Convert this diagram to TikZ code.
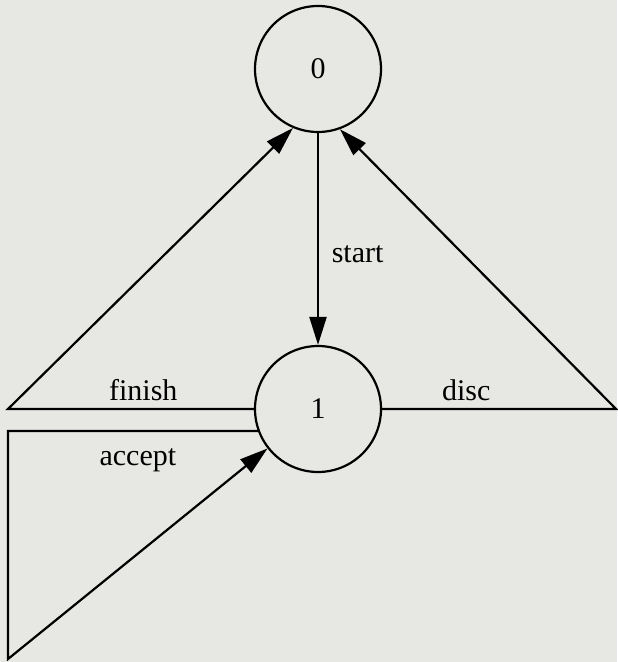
\documentclass[tikz,border=0pt]{standalone}
\usepackage{fontspec}
\setmainfont{Liberation Serif}
\usetikzlibrary{arrows.meta, positioning}
\definecolor{paper}{RGB}{231,231,227}

\begin{document}
\begin{tikzpicture}[
    x=0.5pt, y=-0.5pt,
    state/.style={circle, draw, line width=1.1pt, minimum size=63pt, inner sep=0pt, font=\fontsize{15}{18}\selectfont},
    trans/.style={draw, line width=1.1pt},
    arc/.style={trans, -{Triangle[length=14pt, width=8.5pt]}},
    lbl/.style={font=\fontsize{15}{18}\selectfont}
]
    % Paper
    \fill[paper] (0,0) rectangle (617,662);
    \useasboundingbox (0,0) rectangle (617,662);

    % States
    \node[state] (Q0) at (318,69) {0};
    \node[state] (Q1) at (318,409) {1};

    % Corners of the outer loops
    \coordinate (FL) at (8,409);
    \coordinate (DR) at (616,409);
    \coordinate (AT) at (8,431);
    \coordinate (AB) at (8,659);

    % Edges
    \draw[arc] (Q0) -- node[right=3pt, lbl, pos=0.57] {start} (Q1);
    \draw[arc] (Q1.west) -- node[above, lbl, pos=0.45] {finish} (FL) -- (Q0.-113);
    \draw[arc] (Q1.east) -- node[above, lbl, pos=0.36] {disc} (DR) -- (Q0.-70);
    \draw[arc] (Q1.200) -- node[below=5pt, lbl, pos=0.48] {accept} (AT) -- (AB) -- (Q1.-142);
\end{tikzpicture}
\end{document}
